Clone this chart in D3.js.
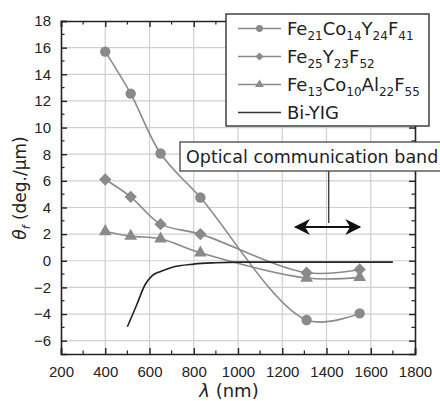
<!DOCTYPE html>
<html>
<head>
<meta charset="utf-8">
<script src="https://cdn.jsdelivr.net/npm/d3@7"></script>
<style>
  body { margin: 0; background: #fff; }
  svg { display: block; }
  text { font-family: "Liberation Sans", Arial, sans-serif; fill: #222; }
</style>
</head>
<body>
<svg width="440" height="401"></svg>
<script>
// data
var wlA = [400, 515, 650, 830, 1310, 1550];
var feCoY = [15.7, 12.55, 8.05, 4.75, -4.45, -3.95];      // Fe21Co14Y24F41
var feY = [6.1, 4.8, 2.75, 2.0, -0.9, -0.65];             // Fe25Y23F52
var feCoAl = [2.2, 1.85, 1.65, 0.6, -1.3, -1.25];         // Fe13Co10Al22F55
var wlBi = [500, 540, 580, 610, 650, 700, 800, 900, 1000, 1700];
var biYig = [-4.95, -3.4, -1.8, -1.15, -0.8, -0.5, -0.25, -0.15, -0.1, -0.1];
var xTicks = [200, 400, 600, 800, 1000, 1200, 1400, 1600, 1800];
var yTicks = [-6, -4, -2, 0, 2, 4, 6, 8, 10, 12, 14, 16, 18];
var bandFrom = 1260, bandTo = 1550, bandMark = 1410;

var svg = d3.select("svg");
var L = 61, R = 415, T = 21, B = 354;

var x = d3.scaleLinear().domain([200, 1800]).range([L, R]);
var y = d3.scaleLinear().domain([-7, 18]).range([B, T]);

// grid
var g = svg.append("g");
g.selectAll(".gx").data(xTicks.slice(1, -1)).enter().append("line")
  .attr("x1", d => x(d)).attr("x2", d => x(d)).attr("y1", T).attr("y2", B)
  .attr("stroke", "#cfcfcf").attr("stroke-width", 1.2);
g.selectAll(".gy").data(yTicks.slice(0, -1)).enter().append("line")
  .attr("y1", d => y(d)).attr("y2", d => y(d)).attr("x1", L).attr("x2", R)
  .attr("stroke", "#cfcfcf").attr("stroke-width", 1.2);

// axes
var minorX = d3.range(300, 1800, 200);
var minorY = d3.range(-5, 18, 2);

var xb = d3.axisBottom(x).tickValues(xTicks).tickSize(-6).tickPadding(12).tickFormat(d3.format("d"));
var yl = d3.axisLeft(y).tickValues(yTicks).tickSize(-6).tickPadding(10).tickFormat(d => d < 0 ? "\u2212" + (-d) : d);

function styleAxis(sel) {
  sel.select(".domain").attr("stroke", "#222").attr("stroke-width", 1.6);
  sel.selectAll(".tick line").attr("stroke", "#222").attr("stroke-width", 1.4);
  sel.selectAll("text").attr("font-size", 15).attr("fill", "#1a1a1a")
    .style("font-family", "'Liberation Sans', Arial, sans-serif");
}

svg.append("g").attr("transform", "translate(0," + B + ")").call(xb).call(styleAxis);
svg.append("g").attr("transform", "translate(" + L + ",0)").call(yl).call(styleAxis);
svg.append("g").attr("transform", "translate(0," + T + ")")
  .call(d3.axisTop(x).tickValues(xTicks).tickSize(-6).tickFormat("")).call(styleAxis);
svg.append("g").attr("transform", "translate(" + R + ",0)")
  .call(d3.axisRight(y).tickValues(yTicks).tickSize(-6).tickFormat("")).call(styleAxis);

// minor ticks
var mt = svg.append("g").attr("stroke", "#222").attr("stroke-width", 1.2);
minorX.forEach(function (d) {
  mt.append("line").attr("x1", x(d)).attr("x2", x(d)).attr("y1", B).attr("y2", B - 3.5);
  mt.append("line").attr("x1", x(d)).attr("x2", x(d)).attr("y1", T).attr("y2", T + 3.5);
});
minorY.forEach(function (d) {
  mt.append("line").attr("y1", y(d)).attr("y2", y(d)).attr("x1", L).attr("x2", L + 3.5);
  mt.append("line").attr("y1", y(d)).attr("y2", y(d)).attr("x1", R).attr("x2", R - 3.5);
});

// series
var grey = "#8a8a8a";
var line = d3.line().x(d => x(d[0])).y(d => y(d[1])).curve(d3.curveCatmullRom.alpha(0.5));

// marker shapes: square diamond is drawn as a rotated square
function marker(sel, shape, big) {
  var size = shape === "circle" ? (big ? 85 : 38) : shape === "diamond" ? (big ? 76 : 32) : (big ? 70 : 34);
  var type = shape === "circle" ? d3.symbolCircle : shape === "diamond" ? d3.symbolSquare : d3.symbolTriangle;
  sel.attr("d", d3.symbol().type(type).size(size)).attr("fill", grey);
  return shape === "diamond" ? " rotate(45)" : "";
}

function series(vals, shape) {
  var pts = wlA.map((w, i) => [w, vals[i]]);
  svg.append("path").datum(pts).attr("d", line)
    .attr("fill", "none").attr("stroke", grey).attr("stroke-width", 1.6);
  var m = svg.selectAll(null).data(pts).enter().append("path");
  var rot = marker(m, shape, true);
  m.attr("transform", d => "translate(" + x(d[0]) + "," + y(d[1]) + ")" + rot);
}
series(feCoY, "circle");
series(feY, "diamond");
series(feCoAl, "triangle");

var biPts = wlBi.map((w, i) => [w, biYig[i]]);
svg.append("path").datum(biPts)
  .attr("d", d3.line().x(d => x(d[0])).y(d => y(d[1])).curve(d3.curveMonotoneX))
  .attr("fill", "none").attr("stroke", "#222").attr("stroke-width", 1.6);

// optical band annotation
var defs = svg.append("defs");
defs.append("marker").attr("id", "ah").attr("viewBox", "0 0 10 10")
  .attr("refX", 9).attr("refY", 5).attr("markerWidth", 9).attr("markerHeight", 8)
  .attr("orient", "auto-start-reverse")
  .append("path").attr("d", "M0,0 L10,5 L0,10 L3,5 Z").attr("fill", "#111");

svg.append("line").attr("x1", x(bandMark)).attr("x2", x(bandMark)).attr("y1", 171).attr("y2", 223)
  .attr("stroke", "#333").attr("stroke-width", 1.3);
svg.append("line").attr("x1", x(bandFrom)).attr("x2", x(bandTo)).attr("y1", 227).attr("y2", 227)
  .attr("stroke", "#111").attr("stroke-width", 2)
  .attr("marker-start", "url(#ah)").attr("marker-end", "url(#ah)");

svg.append("rect").attr("x", 180).attr("y", 142).attr("width", 262).attr("height", 29)
  .attr("fill", "#fff").attr("stroke", "#444").attr("stroke-width", 1.3);
svg.append("text").attr("x", 186).attr("y", 163).attr("font-size", 17.5)
  .style("font-family", "'DejaVu Sans', sans-serif")
  .text("Optical communication band");

// legend
var lg = svg.append("g");
lg.append("rect").attr("x", 226).attr("y", 14).attr("width", 203).attr("height", 112)
  .attr("fill", "#fff").attr("stroke", "#333").attr("stroke-width", 1.4);

var legendItems = [
  { parts: [["Fe", 0], ["21", 1], ["Co", 0], ["14", 1], ["Y", 0], ["24", 1], ["F", 0], ["41", 1]], shape: "circle", col: grey },
  { parts: [["Fe", 0], ["25", 1], ["Y", 0], ["23", 1], ["F", 0], ["52", 1]], shape: "diamond", col: grey },
  { parts: [["Fe", 0], ["13", 1], ["Co", 0], ["10", 1], ["Al", 0], ["22", 1], ["F", 0], ["55", 1]], shape: "triangle", col: grey },
  { parts: [["Bi-YIG", 0]], shape: null, col: "#333" }
];
legendItems.forEach(function (it, i) {
  var cy = 28.5 + i * 28;
  lg.append("line").attr("x1", 238).attr("x2", 281).attr("y1", cy).attr("y2", cy)
    .attr("stroke", it.col).attr("stroke-width", 1.5);
  if (it.shape) {
    var m = lg.append("path");
    var rot = marker(m, it.shape, false);
    m.attr("transform", "translate(259.5," + cy + ")" + rot);
  }
  var t = lg.append("text").attr("x", 287).attr("y", cy + 6.5)
    .style("font-family", "'DejaVu Sans', sans-serif").attr("font-size", 18);
  it.parts.forEach(function (p) {
    var s = t.append("tspan").text(p[0]);
    if (p[1]) s.attr("font-size", 12).attr("dy", 5);
    else s.attr("dy", t.selectAll("tspan").size() > 1 ? -5 : 0);
  });
});

// axis titles
var yt = svg.append("text").attr("transform", "translate(26,188) rotate(-90)")
  .attr("text-anchor", "middle").attr("font-size", 17)
  .style("font-family", "'DejaVu Sans', sans-serif");
yt.append("tspan").attr("font-style", "italic").text("\u03b8");
yt.append("tspan").attr("font-size", 11).attr("dy", 4).attr("font-style", "italic").text("f");
yt.append("tspan").attr("dy", -4).text(" (deg./\u03bcm)");

var xt = svg.append("text").attr("x", 229).attr("y", 397).attr("text-anchor", "middle")
  .attr("font-size", 18).style("font-family", "'DejaVu Sans', sans-serif");
xt.append("tspan").attr("font-style", "italic").text("\u03bb");
xt.append("tspan").text(" (nm)");
</script>
</body>
</html>
